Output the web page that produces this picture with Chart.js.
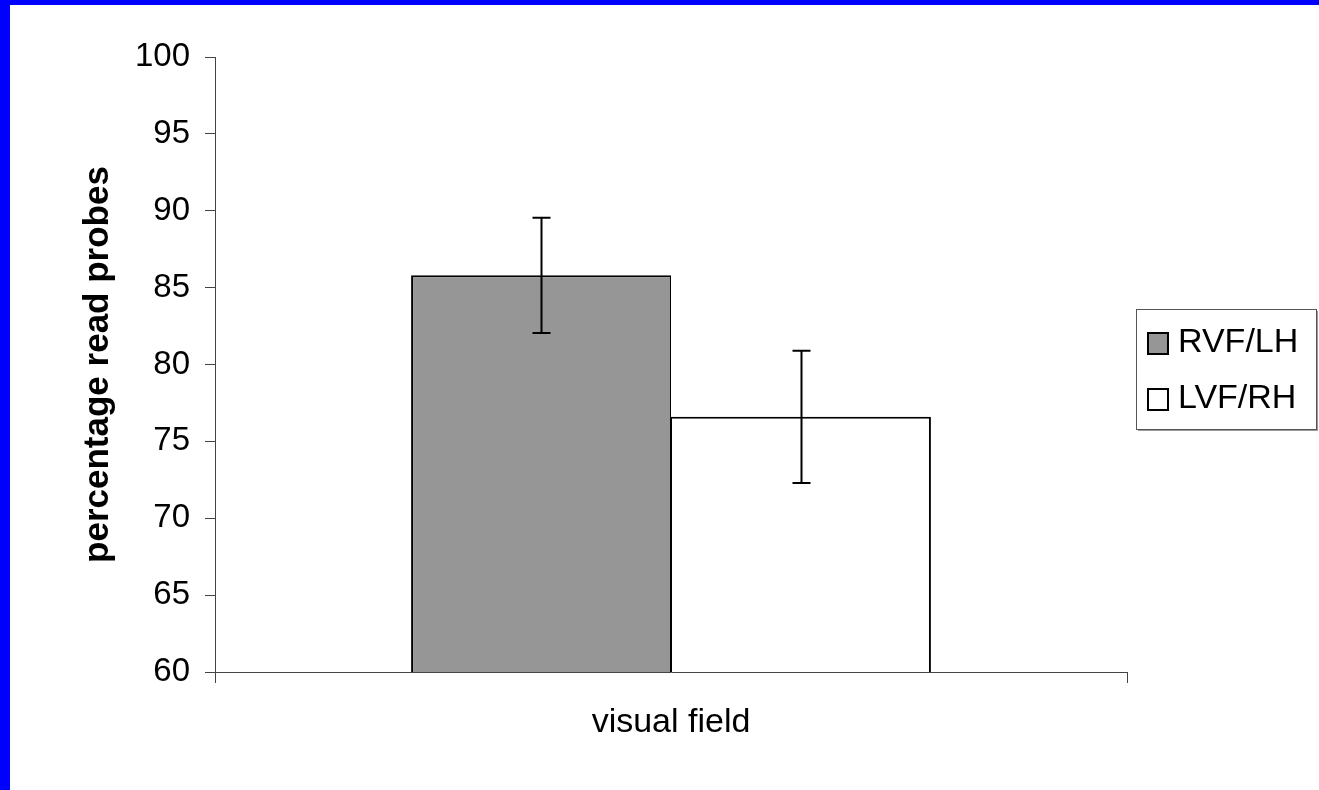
<!DOCTYPE html>
<html lang="en">
<head>
  <meta charset="UTF-8" />
  <title>percentage read probes by visual field</title>
  <script src="https://cdn.jsdelivr.net/npm/chart.js"></script>
  <style>
    html, body {
      margin: 0;
      padding: 0;
      background: #0000ff;
      overflow: hidden;
    }
    #wrap {
      position: absolute;
      left: 10px;
      top: 5px;
      width: 1309px;
      height: 785px;
      background: #ffffff;
    }
  </style>
</head>
<body>
  <div id="wrap">
    <canvas id="chart" width="1309" height="785"></canvas>
  </div>

  <script>
    // values
    const categories = [''];
    const seriesNames = ['RVF/LH', 'LVF/RH'];
    const seriesValues = [[85.8], [76.6]];
    const seriesErrors = [[3.75], [4.3]];
    const seriesColors = ['#969696', '#ffffff'];
    const yTicks = [60, 65, 70, 75, 80, 85, 90, 95, 100];

    const fontFamily = "'Liberation Sans', Arial, sans-serif";

    // error bars drawn through the y scale
    const errorBars = {
      id: 'errorBars',
      afterDatasetsDraw(chart) {
        const ctx = chart.ctx;
        const y = chart.scales.y;
        ctx.save();
        ctx.strokeStyle = '#000';
        ctx.lineWidth = 2;
        chart.data.datasets.forEach((ds, i) => {
          const meta = chart.getDatasetMeta(i);
          meta.data.forEach((bar, j) => {
            const v = ds.data[j], e = seriesErrors[i][j];
            const top = y.getPixelForValue(v + e);
            const bot = y.getPixelForValue(v - e);
            const x = Math.round(bar.x) + 0.5;
            ctx.beginPath();
            ctx.moveTo(x, top); ctx.lineTo(x, bot);
            ctx.moveTo(x - 9, top); ctx.lineTo(x + 9, top);
            ctx.moveTo(x - 9, bot); ctx.lineTo(x + 9, bot);
            ctx.stroke();
          });
        });
        ctx.restore();
      }
    };

    // boxed legend on the right, like the original
    const boxLegend = {
      id: 'boxLegend',
      afterDraw(chart) {
        const ctx = chart.ctx;
        const bx = 1126, by = 304, bw = 180, bh = 120;
        ctx.save();
        ctx.fillStyle = '#999';
        ctx.fillRect(bx + 2, by + 2, bw, bh);
        ctx.fillStyle = '#fff';
        ctx.fillRect(bx, by, bw, bh);
        ctx.strokeStyle = '#555';
        ctx.lineWidth = 1;
        ctx.strokeRect(bx + 0.5, by + 0.5, bw, bh);
        ctx.font = '34px ' + fontFamily;
        ctx.textBaseline = 'middle';
        chart.data.datasets.forEach((ds, i) => {
          const cy = by + 34 + i * 56;
          ctx.fillStyle = ds.backgroundColor;
          ctx.fillRect(bx + 12, cy - 10, 20, 21);
          ctx.strokeStyle = '#000';
          ctx.lineWidth = 2;
          ctx.strokeRect(bx + 12, cy - 10, 20, 21);
          ctx.fillStyle = '#000';
          ctx.fillText(ds.label, bx + 42, cy);
        });
        ctx.restore();
      }
    };

    new Chart(document.getElementById('chart').getContext('2d'), {
      type: 'bar',
      data: {
        labels: categories,
        datasets: seriesNames.map((name, i) => ({
          label: name,
          data: seriesValues[i],
          backgroundColor: seriesColors[i],
          borderColor: '#000',
          borderWidth: i === 0 ? { left: 2, top: 2, right: 1, bottom: 0 } : { left: 1, top: 2, right: 2, bottom: 0 },
          categoryPercentage: 0.57,
          barPercentage: 1
        }))
      },
      options: {
        responsive: false,
        animation: false,
        layout: { padding: { top: 52, right: 192, left: 0, bottom: 0 } },
        plugins: {
          legend: { display: false },
          tooltip: { enabled: false }
        },
        scales: {
          x: {
            offset: true,
            grid: { offset: true, drawOnChartArea: false, drawTicks: true, tickLength: 11, color: '#444' },
            border: { color: '#444', width: 1 },
            ticks: { display: false },
            title: {
              display: true,
              text: 'visual field',
              color: '#000',
              font: { family: fontFamily, size: 34 },
              padding: { top: 0, bottom: 47 }
            },
            afterFit(scale) { scale.height = 118; }
          },
          y: {
            min: 60,
            max: 100,
            afterBuildTicks(scale) { scale.ticks = yTicks.map(v => ({ value: v })); },
            grid: { drawOnChartArea: false, drawTicks: true, tickLength: 10, color: '#444' },
            border: { color: '#444', width: 1 },
            ticks: {
              color: '#000',
              padding: 15,
              font: { family: fontFamily, size: 33 }
            },
            title: {
              display: true,
              text: 'percentage read probes',
              color: '#000',
              font: { family: fontFamily, size: 35, weight: 'bold' },
              padding: { top: 67, bottom: 0 }
            },
            afterFit(scale) { scale.width = 205; }
          }
        }
      },
      plugins: [errorBars, boxLegend]
    });
  </script>
</body>
</html>
